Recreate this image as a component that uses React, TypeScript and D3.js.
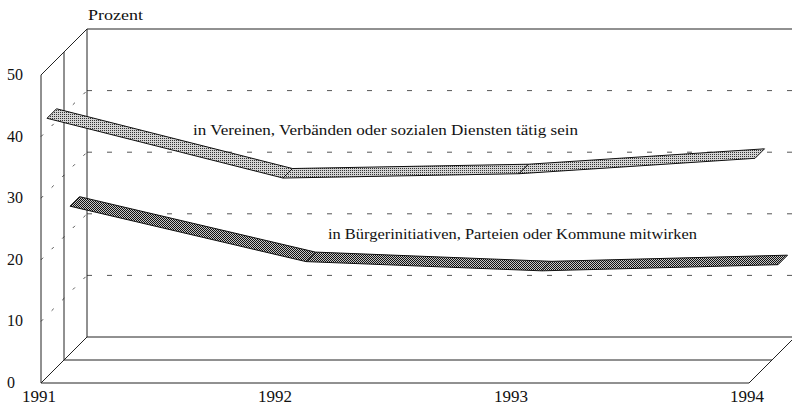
import React from "react";
import * as d3 from "d3";

const years = [1991, 1992, 1993, 1994];
const vereine = [42, 32.3, 33, 35.5];
const buerger = [24, 15, 13.5, 14.5];
const yTicks = [0, 10, 20, 30, 40, 50];
const gridTicks = [10, 20, 30, 40];
const labelVereine = "in Vereinen, Verbänden oder sozialen Diensten tätig sein";
const labelBuerger = "in Bürgerinitiativen, Parteien oder Kommune mitwirken";
const axisTitle = "Prozent";

const W = 792;
const H = 412;
const DEPTH = 46;
const ROW = 23;
const FONT = "'Liberation Serif', 'Times New Roman', serif";

export default function App() {
  const x = d3.scaleLinear().domain([1991, 1994]).range([41, 749]);
  const y = d3.scaleLinear().domain([0, 50]).range([383, 75]);
  const P = (xv: number, v: number, d: number): [number, number] => [x(xv) + d, y(v) - d];

  const x0 = x(1991), x1 = x(1994);
  const yb = y(0), yt = y(50);

  const line = d3.line();

  const ribbon = (vals: number[], row: number, fill: string) => {
    const d0 = row * ROW + 6;
    const d1 = row * ROW + 15.5;
    const segs = [];
    for (let i = 0; i < vals.length - 1; i++) {
      const pts: [number, number][] = [
        P(years[i], vals[i], d0),
        P(years[i + 1], vals[i + 1], d0),
        P(years[i + 1], vals[i + 1], d1),
        P(years[i], vals[i], d1),
      ];
      segs.push(
        <path key={i} d={line(pts) + "Z"} fill={fill} stroke="#111" strokeWidth={1} strokeLinejoin="round" />
      );
    }
    return segs;
  };

  const L = (a: [number, number], b: [number, number], extra: any = {}) => (
    <line x1={a[0]} y1={a[1]} x2={b[0]} y2={b[1]} stroke="#222" strokeWidth={1} {...extra} />
  );

  return (
    <svg width={W} height={H} style={{ position: "absolute", left: 0, top: 0, background: "#fff" }}>
      <defs>
        <pattern id="lightDots" width={2} height={2} patternUnits="userSpaceOnUse">
          <rect width={2} height={2} fill="#d4d4d4" />
          <rect width={1} height={1} fill="#333" />
        </pattern>
        <pattern id="darkCheck" width={2} height={2} patternUnits="userSpaceOnUse">
          <rect width={2} height={2} fill="#c8c8c8" />
          <rect width={1} height={1} fill="#111" />
          <rect x={1} y={1} width={1} height={1} fill="#111" />
        </pattern>
      </defs>
      <rect width={W} height={H} fill="#fff" />

      {/* gridlines on back wall and left wall */}
      {gridTicks.map((t) => (
        <g key={"g" + t}>
          {L(P(1991, t, DEPTH), P(1994, t, DEPTH), { stroke: "#555", strokeDasharray: "5 15" })}
          {L(P(1991, t, 0), P(1991, t, DEPTH), { stroke: "#555", strokeDasharray: "3 12" })}
        </g>
      ))}

      {/* back wall */}
      {L(P(1991, 50, DEPTH), P(1994, 50, DEPTH))}
      {L(P(1991, 0, DEPTH), P(1991, 50, DEPTH))}
      {L(P(1991, 0, DEPTH), P(1994, 0, DEPTH))}
      {/* left wall */}
      {L([x0, yb], [x0, yt])}
      {L(P(1991, 0, ROW), P(1991, 50, ROW))}
      {L(P(1991, 50, 0), P(1991, 50, DEPTH))}
      {L(P(1991, 0, 0), P(1991, 0, DEPTH))}
      {/* floor */}
      {L([x0, yb], [x1, yb])}
      {L(P(1991, 0, ROW), P(1994, 0, ROW))}
      {L(P(1994, 0, 0), P(1994, 0, DEPTH))}

      {/* ribbons */}
      {ribbon(buerger, 1, "url(#darkCheck)")}
      {ribbon(vereine, 0, "url(#lightDots)")}

      {/* y tick labels */}
      {yTicks.map((t) => (
        <text key={"t" + t} x={7} y={y(t) + 5} fontFamily={FONT} fontSize={16} fill="#111">
          {t}
        </text>
      ))}
      {/* year labels */}
      {years.map((yr) => (
        <text key={"y" + yr} x={x(yr) - 2} y={402} textAnchor="middle" fontFamily={FONT} fontSize={17} fill="#111">
          {yr}
        </text>
      ))}
      <text x={88} y={20} fontFamily={FONT} fontSize={15} fill="#111" textLength={55} lengthAdjust="spacingAndGlyphs">
        {axisTitle}
      </text>
      <text x={193} y={135} fontFamily={FONT} fontSize={14} fill="#111" textLength={385} lengthAdjust="spacingAndGlyphs">
        {labelVereine}
      </text>
      <text x={328} y={239} fontFamily={FONT} fontSize={14} fill="#111" textLength={369} lengthAdjust="spacingAndGlyphs">
        {labelBuerger}
      </text>
    </svg>
  );
}
